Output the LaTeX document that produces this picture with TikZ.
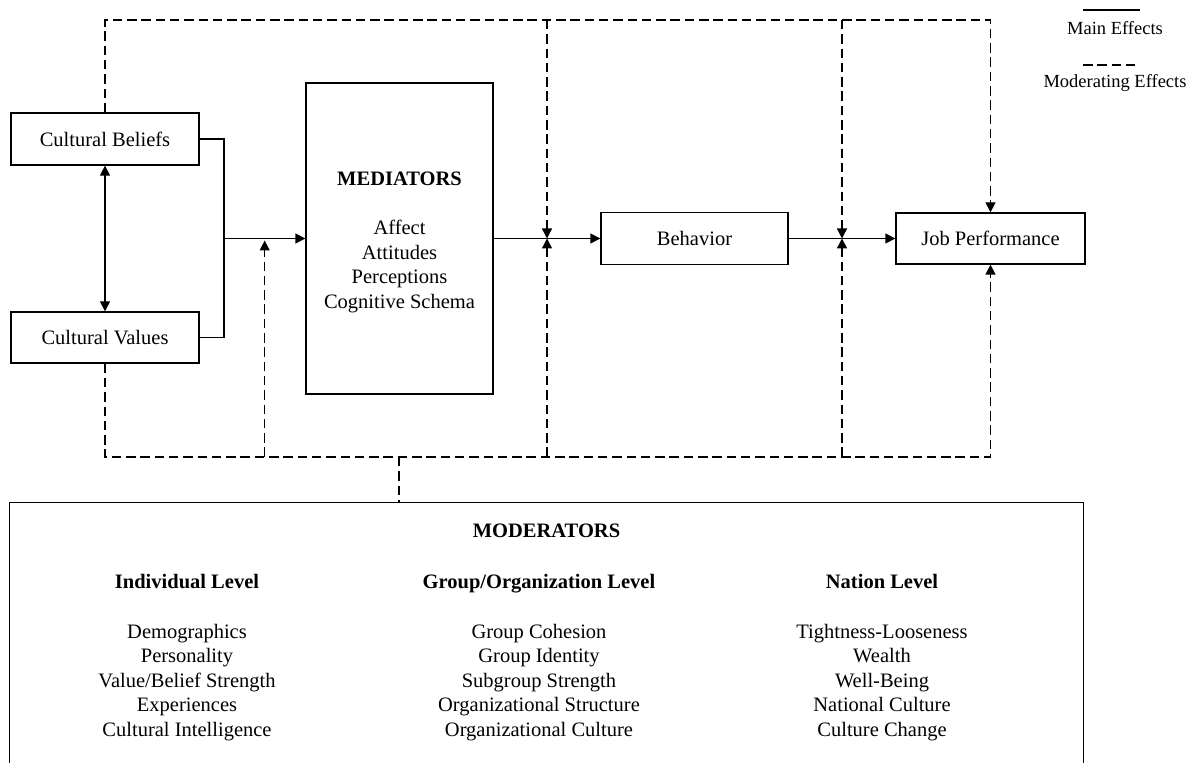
\documentclass[tikz,border=0pt]{standalone}
\usepackage{fontspec}
\setmainfont{Liberation Serif}
\usetikzlibrary{arrows.meta,calc}
\begin{document}
\begin{tikzpicture}[x=0.5pt,y=-0.5pt,
  font=\fontsize{10.25}{12.25}\selectfont,
  box/.style={draw,line width=0.65pt,inner sep=0pt,align=center},
  main/.style={line width=0.65pt},
  mod/.style={line width=0.65pt,dash pattern=on 4.75pt off 2.4pt},
  tip/.style={-{Triangle[length=5pt,width=5pt]}},
  lbl/.style={align=center,inner sep=0pt},
  head/.style={lbl,text height=7pt,text depth=2pt}]
\useasboundingbox (0,0) rectangle (1192,763);

% antecedents, mediators and outcomes
\node[box,minimum width=94pt,minimum height=26pt] (cb) at (105,139) {Cultural Beliefs};
\node[box,minimum width=94pt,minimum height=25.5pt] (cv) at (105,337.5) {Cultural Values};
\node[box,minimum width=93.5pt,minimum height=155.5pt] (med) at (399.5,238.5) {};
\node[lbl] (medtxt) at (399.5,242.5)
  {\bfseries MEDIATORS\\[12.25pt]Affect\\Attitudes\\Perceptions\\Cognitive Schema};
\node[box,minimum width=93.5pt,minimum height=26pt] (beh) at (694.5,238.5) {Behavior};
\node[box,minimum width=94.5pt,minimum height=25.5pt] (jp) at (990.5,238.5) {Job Performance};

% moderators panel (open at the bottom)
\node[inner sep=0pt,minimum width=536.5pt,minimum height=130pt] (modbox) at (546.5,633) {};
\draw[main] (modbox.south west) -- (modbox.north west) -- (modbox.north east) -- (modbox.south east);
\node[head] (modt) at (546.5,533) {\bfseries MODERATORS};
\node[head] (ind) at (187,583) {\bfseries Individual Level};
\node[head] (grp) at (539,583) {\bfseries Group/Organization Level};
\node[head] (nat) at (882,583) {\bfseries Nation Level};
\node[lbl] (indl) at (187,682.5) {Demographics\\Personality\\Value/Belief Strength\\Experiences\\Cultural Intelligence};
\node[lbl] (grpl) at (539,682.5) {Group Cohesion\\Group Identity\\Subgroup Strength\\Organizational Structure\\Organizational Culture};
\node[lbl] (natl) at (882,682.5) {Tightness-Looseness\\Wealth\\Well-Being\\National Culture\\Culture Change};

% legend
\coordinate (l1a) at (1083,10);
\coordinate (l1b) at (1140,10);
\draw[main] (l1a) -- (l1b);
\node[lbl,font=\fontsize{9.25}{11}\selectfont] (lmain) at (1115,28) {Main Effects};
\coordinate (l2a) at (1083,65);
\coordinate (l2b) at (1140,65);
\draw[mod] (l2a) -- (l2b);
\node[lbl,font=\fontsize{9.25}{11}\selectfont] (lmod) at (1115,83) {Moderating Effects};

% main effects
\coordinate (j) at (224,238.5);
\draw[main] (cb.east) -| (j);
\draw[main] (cv.east) -| (j);
\draw[main,tip] (j) -- (med.west);
\draw[main,{Triangle[length=5pt,width=5pt]}-{Triangle[length=5pt,width=5pt]}] (cb.south) -- (cv.north);
\draw[main,tip] (med.east) -- (beh.west);
\draw[main,tip] (beh.east) -- (jp.west);

% moderating effects
\coordinate (a0) at ($(j)!0.5!(med.west)$);
\coordinate (a1) at ($(med.east)!0.5!(beh.west)$);
\coordinate (a2) at ($(beh.east)!0.5!(jp.west)$);
\coordinate (top) at (0,20);
\coordinate (bot) at (0,457);
\draw[mod,tip] (cb.north) |- (jp.north |- top) -- (jp.north);
\draw[mod,tip] (a1 |- top) -- (a1);
\draw[mod,tip] (a2 |- top) -- (a2);
\draw[mod,tip] (cv.south) |- (jp.south |- bot) -- (jp.south);
\draw[mod,tip] (a0 |- bot) -- ($(a0)+(0,2)$);
\draw[mod,tip] (a1 |- bot) -- (a1);
\draw[mod,tip] (a2 |- bot) -- (a2);
\coordinate (mc) at (399,457);
\draw[mod] (mc) -- (mc |- modbox.north);
\end{tikzpicture}
\end{document}
